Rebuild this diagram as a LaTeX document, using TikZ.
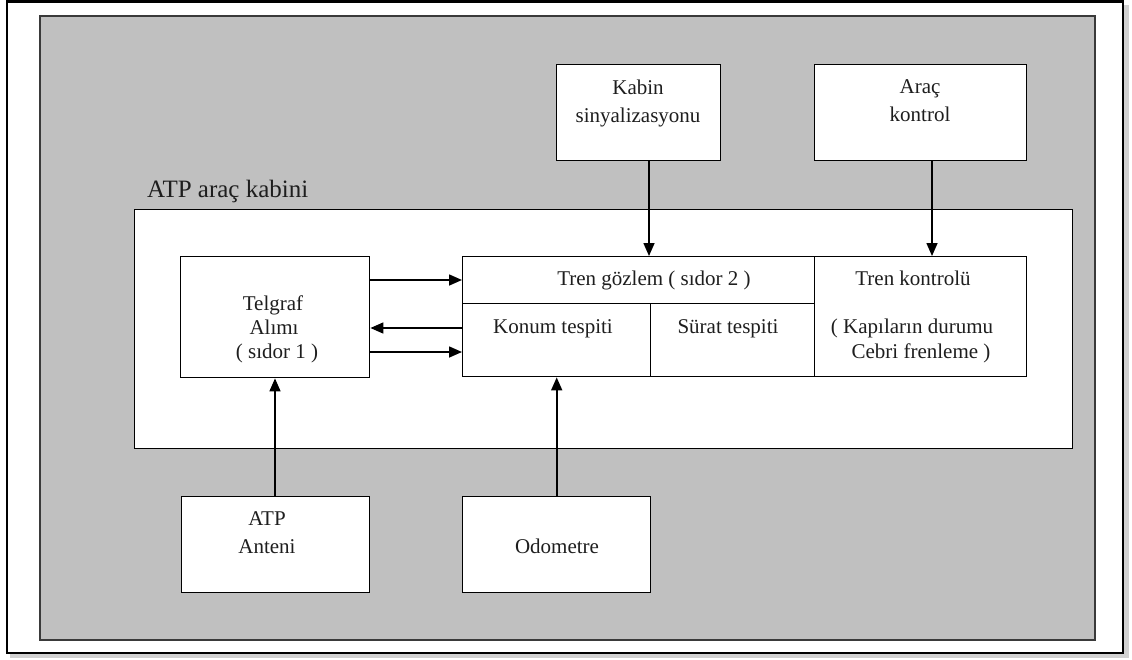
\documentclass[tikz,border=0pt]{standalone}
\usepackage{fontspec}
\setmainfont{Liberation Serif}
\usetikzlibrary{arrows.meta}
\definecolor{panelgray}{HTML}{C0C0C0}
\definecolor{framedark}{HTML}{3A3A3A}
\definecolor{inkdark}{HTML}{1E1E1E}

\begin{document}
\begin{tikzpicture}[x=1pt,y=-1pt,
  box/.style={draw=black, line width=1.4pt, fill=white, inner sep=0pt, anchor=north west},
  cell/.style={draw=black, line width=1.4pt, inner sep=0pt, anchor=north west},
  lbl/.style={font=\fontsize{21}{24}\selectfont, text=inkdark, anchor=base, inner sep=0pt},
  biglbl/.style={font=\fontsize{25}{28}\selectfont, text=inkdark, anchor=base west, inner sep=0pt},
  arr/.style={line width=1.6pt, -{Triangle[length=13pt,width=11pt]}}
]
\useasboundingbox (0,0) rectangle (1132,659);

% outer sheet with a soft drop shadow
\fill[black!18] (10,5) rectangle (1129,658);
\draw[line width=2.2pt, fill=white] (7,1.5) rectangle (1123,653);
% gray panel
\draw[line width=1.6pt, draw=framedark, fill=panelgray] (40,16) rectangle (1095,640);

% cabin area
\node[box, minimum width=938pt, minimum height=239pt] (cabin) at (134,209) {};
\node[biglbl] (cabinlbl) at (147,197) {ATP araç kabini};

% external units
\node[box, minimum width=164pt, minimum height=96pt] (kabin) at (556,64) {};
\node[box, minimum width=212pt, minimum height=96pt] (arac) at (814,64) {};
\node[box, minimum width=188pt, minimum height=96pt] (anten) at (181,496) {};
\node[box, minimum width=188pt, minimum height=96pt] (odo) at (462,496) {};

% on-board units
\node[box, minimum width=189pt, minimum height=121pt] (telgraf) at (180,256) {};
\node[box, minimum width=352pt, minimum height=47pt] (trengoz) at (462,256) {};
\node[box, minimum width=188pt, minimum height=73pt] (konum) at (462,303) {};
\node[box, minimum width=164pt, minimum height=73pt] (surat) at (650,303) {};
\node[box, minimum width=212pt, minimum height=120pt] (kontrol) at (814,256) {};

% texts
\node[lbl] (kabin1) at (638,94) {Kabin};
\node[lbl] (kabin2) at (638,122) {sinyalizasyonu};
\node[lbl] (arac1) at (920,93) {Araç};
\node[lbl] (arac2) at (920,121) {kontrol};
\node[lbl] (tel1) at (273,310) {Telgraf};
\node[lbl] (tel2) at (274,334) {Alımı};
\node[lbl] (tel3) at (277,358) {( sıdor 1 )};
\node[lbl] (goz) at (654,285) {Tren gözlem ( sıdor 2 )};
\node[lbl] (konumt) at (553,333) {Konum tespiti};
\node[lbl] (surtt) at (728,333) {Sürat tespiti};
\node[lbl] (kont1) at (913,285) {Tren kontrolü};
\node[lbl] (kont2) at (912,333) {( Kapıların durumu};
\node[lbl] (kont3) at (921,358) {Cebri frenleme )};
\node[lbl] (ant1) at (267,525) {ATP};
\node[lbl] (ant2) at (267,553) {Anteni};
\node[lbl] (odot) at (557,553) {Odometre};

% connectors
\draw[arr] (kabin.south -| 649,0) -- (trengoz.north -| 649,0);
\draw[arr] (arac.south -| 932,0) -- (kontrol.north -| 932,0);
\draw[arr] (telgraf.east |- 0,280) -- (trengoz.west |- 0,280);
\draw[arr] (konum.west |- 0,328) -- (telgraf.east |- 0,328);
\draw[arr] (telgraf.east |- 0,352) -- (konum.west |- 0,352);
\draw[arr] (anten.north -| 275,0) -- (telgraf.south -| 275,0);
\draw[arr] (odo.north) -- (konum.south);
\end{tikzpicture}
\end{document}
